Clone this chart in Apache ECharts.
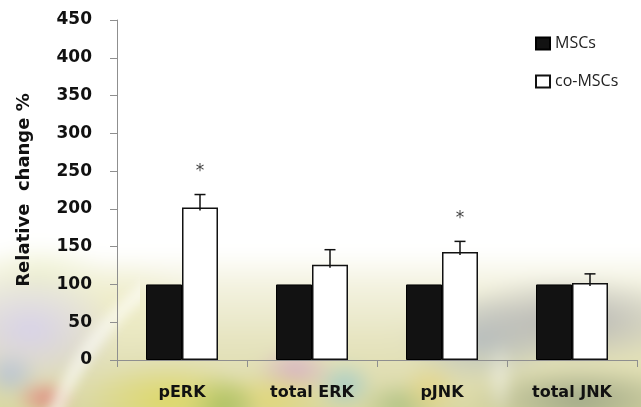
<!DOCTYPE html>
<html>
<head>
<meta charset="utf-8">
<script src="https://cdn.jsdelivr.net/npm/echarts@6/dist/echarts.min.js"></script>
<style>
  html, body { margin: 0; padding: 0; background: #fff; }
  #wrap { position: relative; width: 641px; height: 407px; overflow: hidden; background: #fff; }
  /* soft photographic backdrop behind the lower part of the chart
     (layer is offset by -20px, so gradient centres are chart coords + 20) */
  #backdrop {
    position: absolute; left: -20px; top: -20px; width: 681px; height: 447px;
    filter: blur(7px);
    background:
      radial-gradient(ellipse 30px 18px at 65px 418px, rgba(225,100,110,0.7), rgba(225,100,110,0) 100%),
      radial-gradient(ellipse 30px 25px at 30px 395px, rgba(160,180,225,0.6), rgba(160,180,225,0) 100%),
      radial-gradient(ellipse 90px 60px at 50px 350px, rgba(214,208,236,0.9), rgba(214,208,236,0) 100%),
      radial-gradient(ellipse 70px 40px at 60px 300px, rgba(235,238,200,0.8), rgba(235,238,200,0) 100%),
      radial-gradient(ellipse 80px 50px at 140px 330px, rgba(238,236,190,0.7), rgba(238,236,190,0) 100%),
      radial-gradient(ellipse 90px 40px at 190px 420px, rgba(222,216,100,0.95), rgba(222,216,100,0) 100%),
      radial-gradient(ellipse 40px 30px at 240px 425px, rgba(115,165,75,0.75), rgba(115,165,75,0) 100%),
      radial-gradient(ellipse 60px 30px at 290px 420px, rgba(226,214,110,0.8), rgba(226,214,110,0) 100%),
      radial-gradient(ellipse 40px 25px at 315px 390px, rgba(210,150,205,0.6), rgba(210,150,205,0) 100%),
      radial-gradient(ellipse 30px 25px at 365px 405px, rgba(130,195,215,0.6), rgba(130,195,215,0) 100%),
      radial-gradient(ellipse 30px 30px at 450px 410px, rgba(230,210,120,0.7), rgba(230,210,120,0) 100%),
      radial-gradient(ellipse 40px 25px at 420px 425px, rgba(150,180,110,0.6), rgba(150,180,110,0) 100%),
      radial-gradient(ellipse 14px 40px at 520px 400px, rgba(255,255,255,0.5), rgba(255,255,255,0) 100%),
      radial-gradient(ellipse 130px 45px at 590px 340px, rgba(170,170,175,0.85), rgba(170,170,175,0) 100%),
      radial-gradient(ellipse 80px 45px at 500px 360px, rgba(170,180,192,0.75), rgba(170,180,192,0) 100%),
      radial-gradient(ellipse 110px 35px at 600px 420px, rgba(150,160,130,0.85), rgba(150,160,130,0) 100%),
      linear-gradient(to bottom, #ffffff 0px, #ffffff 270px, #f3f2e0 305px, #e6e4c0 360px, #d6d49c 447px);
  }
  /* pale curved light streak on the left */
  .streakClip { position: absolute; overflow: hidden; }
  .streak {
    position: absolute; border-radius: 50%;
    border-style: solid; border-color: rgba(255,255,255,0.6);
    filter: blur(6px);
  }
  #chart { position: absolute; left: 0; top: 0; width: 641px; height: 407px; }
</style>
</head>
<body>
<div id="wrap">
  <div id="backdrop"></div>
  <div class="streakClip" style="left:0;top:245px;width:140px;height:162px;">
    <div class="streak" style="left:30px;top:-25px;width:560px;height:560px;border-width:14px;"></div>
  </div>
  <div id="chart"></div>
</div>
<script>
// Western blot quantification: MSCs vs co-cultured MSCs
const categories = ['pERK', 'total ERK', 'pJNK', 'total JNK'];
const mscValues = [100, 100, 100, 100];
const coMscValues = [202, 126, 143, 102];
const coMscErrors = [17, 20, 14, 12];
const significance = ['*', '', '*', ''];
const yAxisMin = 0;
const yAxisMax = 450;
const yAxisStep = 50;

const BAR_W = 36;
const AXIS_FONT = 'DejaVu Sans';
const axisGray = '#8f8f8f';

const errorData = categories.map((c, i) => [i, coMscValues[i], coMscErrors[i]]);

const chart = echarts.init(document.getElementById('chart'), null, { renderer: 'canvas' });

chart.setOption({
  backgroundColor: 'transparent',
  animation: false,
  grid: { left: 117, right: 4, top: 20, bottom: 47, containLabel: false },
  legend: {
    orient: 'vertical',
    left: 530,
    top: 30,
    icon: 'rect',
    itemWidth: 14,
    itemHeight: 12,
    itemGap: 21,
    textStyle: { fontFamily: 'Open Sans', fontSize: 16, color: '#222', lineHeight: 17 },
    data: ['MSCs', 'co-MSCs']
  },
  xAxis: {
    type: 'category',
    data: categories,
    axisLine: { lineStyle: { color: axisGray, width: 1 } },
    axisTick: { show: true, length: 7, lineStyle: { color: axisGray } },
    axisLabel: { fontFamily: AXIS_FONT, fontWeight: 'bold', fontSize: 16, color: '#111', margin: 25 }
  },
  yAxis: {
    type: 'value',
    min: yAxisMin,
    max: yAxisMax,
    interval: yAxisStep,
    name: 'Relative  change %',
    nameLocation: 'middle',
    nameGap: 84,
    nameTextStyle: { fontFamily: AXIS_FONT, fontWeight: 'bold', fontSize: 18, color: '#111' },
    axisLine: { show: true, lineStyle: { color: axisGray, width: 1 } },
    axisTick: { show: true, length: 7, lineStyle: { color: axisGray } },
    splitLine: { show: false },
    axisLabel: { fontFamily: AXIS_FONT, fontWeight: 'bold', fontSize: 17, color: '#111', margin: 25 }
  },
  series: [
    {
      name: 'MSCs',
      type: 'bar',
      data: mscValues,
      barWidth: BAR_W,
      barGap: '0%',
      itemStyle: { color: '#121212', borderColor: '#000', borderWidth: 1 }
    },
    {
      name: 'co-MSCs',
      type: 'bar',
      data: coMscValues,
      barWidth: BAR_W,
      barGap: '0%',
      itemStyle: { color: '#ffffff', borderColor: '#111', borderWidth: 1.5 }
    },
    {
      name: 'error',
      type: 'custom',
      data: errorData,
      z: 5,
      renderItem: function (params, api) {
        const idx = api.value(0);
        const mean = api.value(1);
        const err = api.value(2);
        const sig = significance[idx];
        const base = api.coord([idx, mean]);
        const top = api.coord([idx, mean + err]);
        const x = base[0] + BAR_W / 2;
        const children = [
          { type: 'line', shape: { x1: x, y1: base[1] + 3, x2: x, y2: top[1] }, style: { stroke: '#111', lineWidth: 1.5 } },
          { type: 'line', shape: { x1: x - 5.5, y1: top[1], x2: x + 5.5, y2: top[1] }, style: { stroke: '#111', lineWidth: 1.5 } }
        ];
        if (sig) {
          children.push({
            type: 'text',
            style: { text: sig, x: x, y: top[1] - 23, align: 'center', verticalAlign: 'middle',
                     font: 'normal 17px DejaVu Sans', fill: '#444' }
          });
        }
        return { type: 'group', children: children };
      }
    }
  ]
});
</script>
</body>
</html>
